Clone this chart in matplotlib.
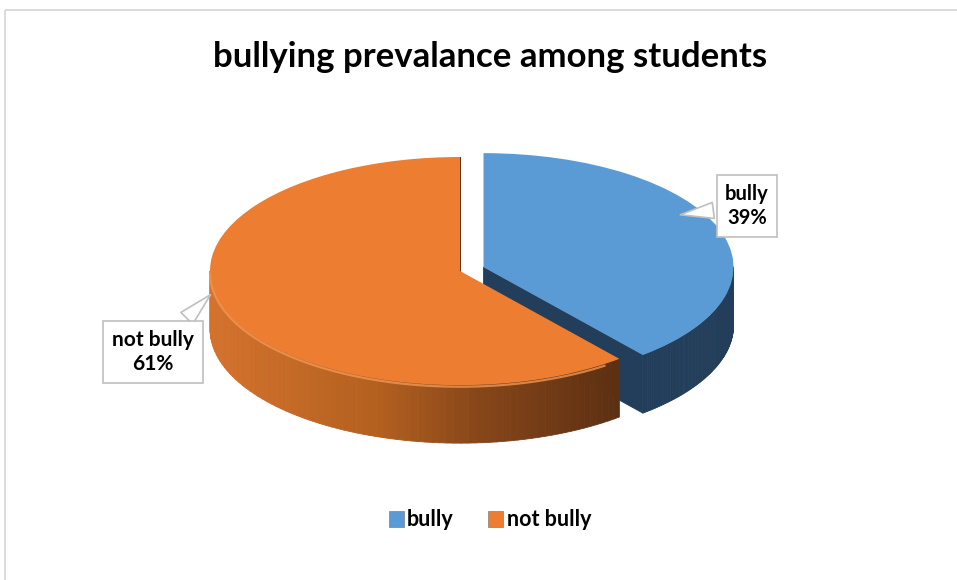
import numpy as np
import matplotlib.pyplot as plt
from matplotlib.patches import Rectangle, Patch
from matplotlib.collections import PolyCollection
from matplotlib.colors import LinearSegmentedColormap

plt.rcParams['font.family'] = ['Lato', 'DejaVu Sans']

# data
labels = ['bully', 'not bully']
shares = [39, 61]
top_colors = ['#5B9BD5', '#ED7D31']
explode = [0.1, 0]

title = 'bullying prevalance among students'

depth = 0.51  # thickness of the pie, in y units of the pie axes

fig = plt.figure(figsize=(9.57, 5.8), dpi=100)

# background axes in pixel units for frame, title, labels
bg = fig.add_axes([0, 0, 1, 1])
bg.set_xlim(0, 957)
bg.set_ylim(580, 0)
bg.axis('off')
bg.add_patch(Rectangle((5, 10), 1000, 600, fill=False, ec='#D9D9D9', lw=1.3))
bg.text(490, 57, title, ha='center', va='center', fontsize=25, fontweight='bold', color='#000000')

# pie axes: 1 unit = 250 px wide, 114 px tall (tilted look)
pax = fig.add_axes([85 / 957, 81 / 580, 750 / 957, 399 / 580])
wedges, _ = pax.pie(shares, startangle=90, counterclock=False, explode=explode,
                    colors=top_colors, wedgeprops=dict(linewidth=0))


def arc(c, a0, a1, n=60):
    t = np.radians(np.linspace(a0, a1, n))
    return c[0] + np.cos(t), c[1] + np.sin(t)


cmap = LinearSegmentedColormap.from_list(
    'side', [(0.0, '#D4722D'), (0.41, '#B3601F'), (0.65, '#874619'), (1.0, '#5B2F12')])

side_colors = ['#233E5A', None]
for i, w in enumerate(wedges):
    c = w.center
    t1, t2 = w.theta1, w.theta2
    polys, cols = [], []
    # outer rim facing the viewer (sin < 0)
    for k in (-1, 0, 1):
        lo, hi = max(t1, -180 + 360 * k), min(t2, 360 * k)
        if lo < hi:
            xs, ys = arc(c, lo, hi, 80)
            for j in range(len(xs) - 1):
                polys.append([(xs[j], ys[j]), (xs[j + 1], ys[j + 1]),
                              (xs[j + 1], ys[j + 1] - depth), (xs[j], ys[j] - depth)])
                xm = (xs[j] + xs[j + 1]) / 2
                cols.append(cmap(np.clip((xm + 1) / 1.65, 0, 1)))
    # cut faces facing the viewer
    for t, vis in ((t1, np.cos(np.radians(t1)) > 0), (t2, np.cos(np.radians(t2)) < 0)):
        if vis:
            ex, ey = c[0] + np.cos(np.radians(t)), c[1] + np.sin(np.radians(t))
            polys.append([c, (ex, ey), (ex, ey - depth), (c[0], c[1] - depth)])
            cols.append(cmap(0.9))
    if side_colors[i] is not None:
        cols = [side_colors[i]] * len(polys)
    pc = PolyCollection(polys, facecolors=cols, edgecolors=cols, linewidths=0.6,
                        zorder=1 + i)
    pax.add_collection(pc)
    w.set_zorder(3 + i)

# light bevel on the orange rim
w = wedges[1]
xs, ys = arc(w.center, max(w.theta1, -180), w.theta2 - 4, 120)
pax.plot(xs, ys - 0.015, color='#F39650', lw=1.6, alpha=0.8, zorder=5,
         solid_capstyle='butt')

pax.set_aspect('auto')
pax.set_xlim(-1.5, 1.5)
pax.set_ylim(-2, 1.5)
pax.axis('off')

# callout labels
box = dict(boxstyle='square,pad=0.42', fc='white', ec='#BFBFBF', lw=1.2)
arrow = dict(arrowstyle='wedge,tail_width=0.8,shrink_factor=0.5', fc='white',
             ec='#BFBFBF', lw=1.2)
label_text = [f'{l}\n{s}%' for l, s in zip(labels, shares)]
bg.annotate(label_text[0], xy=(0.87, 0.49), xycoords=pax.transData,
            xytext=(747, 206), textcoords=bg.transData, ha='center', va='center',
            fontsize=14.5, fontweight='bold', linespacing=1.3, bbox=box,
            arrowprops=arrow, zorder=10)
bg.annotate(label_text[1], xy=(-0.99, -0.19), xycoords=pax.transData,
            xytext=(153, 352), textcoords=bg.transData, ha='center', va='center',
            fontsize=15, fontweight='bold', linespacing=1.3, bbox=box,
            arrowprops=arrow, zorder=10)
bg.set_zorder(pax.get_zorder() + 1)
bg.patch.set_visible(False)

# legend
handles = [Patch(facecolor=c, edgecolor='#7F7F7F', lw=0.5) for c in top_colors]
fig.legend(handles, labels, loc='center', bbox_to_anchor=(490 / 957, 1 - 520 / 580),
           ncol=2, frameon=False, handlelength=0.7, handleheight=0.7,
           handletextpad=0.15, columnspacing=1.6,
           prop=dict(weight='bold', size=15.5))

fig.savefig('out.png', dpi=100)
